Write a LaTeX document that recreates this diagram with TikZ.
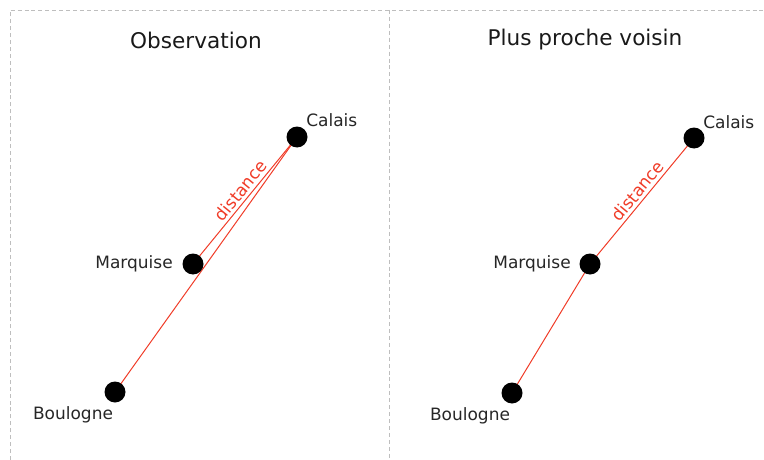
\documentclass[tikz,border=0pt]{standalone}
\usepackage{fontspec}
\setmainfont{DejaVu Sans}
\definecolor{distred}{RGB}{240,60,40}
\definecolor{framegray}{RGB}{190,190,190}

\begin{document}
\begin{tikzpicture}[x=0.75pt,y=-0.75pt,
  frame/.style={framegray,line width=0.7pt,dash pattern=on 3pt off 2.2pt},
  link/.style={distred,line width=0.75pt},
  town/.style={font=\fontsize{12.75}{15}\selectfont,text=black!85,inner sep=0pt},
  title/.style={font=\fontsize{16.2}{19}\selectfont,text=black!90,inner sep=0pt,anchor=base},
  dist/.style={font=\fontsize{12.75}{15}\selectfont,text=distred,sloped,above,inner sep=2pt}]

\useasboundingbox (0,0) rectangle (764,460);

% Frame
\draw[frame] (10,460) -- (10,10) -- (764,10);
\draw[frame] (389,10) -- (389,460);

% Coordinates
\coordinate (CA) at (297,137);
\coordinate (MA) at (193,264);
\coordinate (BA) at (115,392);
\coordinate (CB) at (694,138);
\coordinate (MB) at (590,264);
\coordinate (BB) at (512,393);

% Distances
\draw[link] (BA) -- (CA);
\draw[link] (MA) -- node[dist,pos=0.53] (dA) {distance} (CA);
\draw[link] (BB) -- (MB);
\draw[link] (MB) -- node[dist,pos=0.53] (dB) {distance} (CB);

% Points
\fill (CA) circle (10.5);
\fill (MA) circle (10.5);
\fill (BA) circle (10.5);
\fill (CB) circle (10.5);
\fill (MB) circle (10.5);
\fill (BB) circle (10.5);

% Labels
\node[title] (tA) at (196,49) {Observation};
\node[title] (tB) at (585,46) {Plus proche voisin};
\node[town,anchor=base west] (lCA) at (306,127) {Calais};
\node[town,anchor=base east] (lMA) at (173,268) {Marquise};
\node[town,anchor=base] (lBA) at (73,419) {Boulogne};
\node[town,anchor=base west] (lCB) at (703,128) {Calais};
\node[town,anchor=base east] (lMB) at (571,268) {Marquise};
\node[town,anchor=base] (lBB) at (470,420) {Boulogne};

\end{tikzpicture}
\end{document}
